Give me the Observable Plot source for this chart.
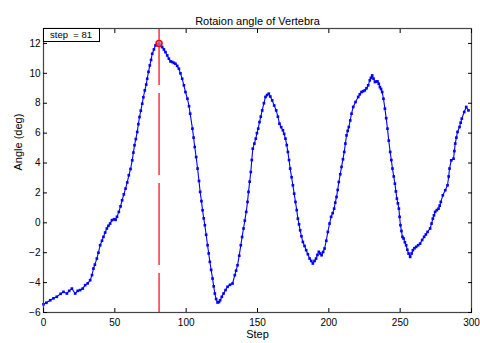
<!DOCTYPE html>
<html>
<head>
<meta charset="utf-8">
<script src="https://cdn.jsdelivr.net/npm/d3@7"></script>
<script src="https://cdn.jsdelivr.net/npm/@observablehq/plot@0.6"></script>
<style>
  html, body { margin: 0; padding: 0; background: #fff; }
  #wrap { position: relative; width: 480px; height: 343px; }
  #legend {
    position: absolute; left: 43px; top: 28px; width: 57px; height: 14px;
    border: 1px solid #000; background: #fff; box-sizing: border-box;
    font: 9.5px 'Liberation Sans', Arial, sans-serif; line-height: 12px;
    padding-left: 6px; white-space: pre; color: #000;
  }
</style>
</head>
<body>
<div id="wrap"></div>
<script>
const titleText = "Rotaion angle of Vertebra";
const xLabel = "Step";
const yLabel = "Angle (deg)";
const legendText = "step  = 81";
const markStep = 81;
const markAngle = 12.0;
const xTicks = [0, 50, 100, 150, 200, 250, 300];
const yTicks = [-6, -4, -2, 0, 2, 4, 6, 8, 10, 12];

const steps = [
  0, 2, 4.7, 7, 9.3, 12, 14, 16.4, 18, 19.9, 22.2, 24, 25.7, 27.5, 29.2, 31, 32.7, 34, 35, 36,
  37.4, 38.5, 39.7, 41, 42, 43.2, 44.4, 45.5, 46.7, 48, 49.5, 50.5, 51.5, 52.8, 54, 55.1, 56.3, 57.5, 58.7, 59.8,
  61, 62.2, 63, 63.8, 64.7, 65.7, 66.5, 67.3, 68.2, 69.2, 70, 71, 72, 72.7, 73.6, 74.5, 75.4, 76.2, 77.4, 78.5,
  79.7, 81, 82, 83.2, 84.4, 85.5, 86.7, 87.9, 89, 90.2, 91.4, 92.5, 93.7, 94.9, 96, 97.2, 98.4, 99.5, 100.9, 102,
  102.8, 104.4, 105.2, 106, 107, 108, 109, 109.8, 110.7, 111.5, 112.3, 113.1, 114, 115, 115.8, 116.6, 117.5, 118.5, 119.3, 120.1,
  121, 122, 123, 123.8, 125, 126.2, 127.6, 129, 130.7, 132.5, 134.1, 135, 136, 137.2, 138.3, 139.2, 140.2, 141.1, 142.1, 143,
  143.7, 144.5, 145.3, 146, 146.7, 147.8, 148.8, 149.6, 150.5, 151.4, 152.3, 153.3, 154.5, 155.6, 156.7, 157.9, 159, 160.3, 161.7, 163.1,
  164.3, 165.4, 166.6, 167.8, 168.7, 169.6, 170.5, 171.3, 172.1, 172.9, 173.9, 174.8, 175.7, 176.6, 177.5, 178.3, 179.1, 179.9, 180.8, 181.8,
  183, 184.1, 185.3, 186.5, 187.7, 188.8, 190, 191.1, 192, 193, 194, 194.9, 196, 197, 198.2, 199.3, 200.5, 201.6, 202.7, 203.7,
  204.5, 205.4, 206.2, 207, 208, 208.9, 209.9, 210.8, 211.6, 212.4, 213.2, 214, 215, 215.9, 217.1, 218.7, 220.6, 221.7, 222.9, 224,
  225.2, 226.4, 227.6, 228.7, 229.5, 230.4, 231.3, 232.3, 233.2, 234.1, 235, 235.8, 236.6, 237.4, 238.3, 239.3, 240.2, 241.1, 242, 243,
  243.8, 244.6, 245.5, 246.3, 247, 247.7, 248.4, 249.1, 249.6, 250.2, 250.9, 251.6, 252.4, 253.3, 254.2, 255, 255.9, 257, 258, 258.9,
  260, 261.2, 262.6, 264, 265.4, 266.8, 268, 269.2, 271, 272, 272.9, 273.7, 274.5, 275.7, 276.9, 277.7, 278.5, 279.9, 281.6, 283.2,
  284, 284.6, 285.8, 287.4, 288, 288.6, 289.4, 290.2, 291.6, 292.4, 293.2, 294.9, 296.3, 297.9
];
const angles = [
  -5.45, -5.35, -5.18, -5.05, -4.95, -4.75, -4.62, -4.73, -4.55, -4.4, -4.73, -4.55, -4.5, -4.4, -4.17, -4.05, -3.84, -3.5, -3.06, -2.8,
  -2.39, -2.0, -1.5, -1.2, -0.94, -0.65, -0.38, -0.2, -0.05, 0.18, 0.24, 0.2, 0.4, 0.73, 1.1, 1.51, 1.9, 2.29, 2.7, 3.18,
  3.6, 4.18, 4.7, 5.19, 5.6, 6.08, 6.6, 7.08, 7.5, 7.97, 8.4, 8.86, 9.25, 9.64, 10.1, 10.53, 10.9, 11.31, 11.6, 11.87,
  11.95, 12.0, 11.9, 11.76, 11.6, 11.42, 11.2, 10.98, 10.8, 10.76, 10.7, 10.64, 10.5, 10.31, 10.0, 9.64, 9.2, 8.75, 8.3, 7.8,
  7.3, 6.3, 5.7, 5.07, 4.4, 3.63, 2.8, 2.07, 1.45, 0.84, 0.3, -0.16, -0.8, -1.5, -2.05, -2.61, -3.15, -3.73, -4.25, -4.73,
  -5.1, -5.33, -5.3, -5.18, -4.95, -4.73, -4.5, -4.28, -4.15, -4.06, -3.5, -3.2, -2.84, -2.2, -1.5, -0.95, -0.38, 0.15, 0.73, 1.4,
  2.07, 2.75, 3.4, 4.2, 4.96, 5.3, 5.63, 6.0, 6.3, 6.74, 7.1, 7.52, 8.0, 8.42, 8.55, 8.64, 8.45, 8.19, 7.85, 7.52,
  7.1, 6.63, 6.4, 6.19, 5.95, 5.63, 5.2, 4.74, 4.2, 3.63, 3.05, 2.51, 1.95, 1.4, 0.85, 0.28, -0.1, -0.5, -0.9, -1.28,
  -1.55, -1.83, -2.1, -2.39, -2.55, -2.72, -2.55, -2.39, -2.15, -1.94, -2.05, -2.17, -1.95, -1.72, -1.2, -0.61, -0.05, 0.4, 0.65, 0.95,
  1.35, 1.73, 2.2, 2.73, 3.25, 3.74, 4.25, 4.74, 5.3, 5.85, 6.15, 6.41, 6.85, 7.3, 7.75, 8.08, 8.42, 8.6, 8.75, 8.8,
  8.86, 9.0, 9.2, 9.53, 9.7, 9.86, 9.65, 9.42, 9.45, 9.46, 9.3, 9.08, 8.95, 8.75, 8.3, 7.64, 7.0, 6.3, 5.5, 4.74,
  4.2, 3.63, 3.1, 2.62, 2.1, 1.62, 1.3, 0.95, 0.4, -0.16, -0.55, -0.94, -1.05, -1.3, -1.5, -1.8, -2.06, -2.28, -2.05, -1.83,
  -1.7, -1.61, -1.5, -1.39, -1.15, -0.94, -0.78, -0.61, -0.38, -0.05, 0.28, 0.5, 0.73, 0.85, 0.95, 1.15, 1.4, 1.84, 2.18, 2.51,
  3.1, 3.63, 4.18, 4.29, 4.8, 5.3, 5.7, 6.08, 6.41, 6.7, 6.97, 7.41, 7.75, 7.52
];

const data = steps.map((s, i) => ({step: s, angle: angles[i]}));

const chart = Plot.plot({
  width: 480,
  height: 343,
  marginLeft: 43,
  marginRight: 9,
  marginTop: 28,
  marginBottom: 31,
  x: {domain: [0, 300], ticks: xTicks},
  y: {domain: [-6, 13], ticks: yTicks},
  style: {fontFamily: "'Liberation Sans', Arial, sans-serif", fontSize: "10px", color: "#000", background: "#fff"},
  marks: [
    Plot.ruleX([markStep], {stroke: "#ff0000", strokeWidth: 1.2, strokeDasharray: "82,8", strokeDashoffset: 25}),
    Plot.line(data, {x: "step", y: "angle", stroke: "#0000ff", strokeWidth: 1.1}),
    Plot.dot(data, {x: "step", y: "angle", symbol: "square", r: 1.5, fill: "#0000ff"}),
    Plot.dot([{step: markStep, angle: markAngle}], {x: "step", y: "angle", r: 3, stroke: "#ff0000", fill: "#ff9999", fillOpacity: 0.6}),
    Plot.frame({stroke: "#444", strokeWidth: 1.2}),
    Plot.axisX(xTicks, {anchor: "bottom", tickSize: 0, tickPadding: 6, label: null}),
    Plot.axisX(xTicks, {anchor: "bottom", tickSize: -4, fill: "none", label: null, stroke: "#000"}),
    Plot.axisX(xTicks, {anchor: "top", tickSize: -4, fill: "none", label: null, stroke: "#000"}),
    Plot.axisY(yTicks, {anchor: "left", tickSize: 0, tickPadding: 3, label: null}),
    Plot.axisY(yTicks, {anchor: "left", tickSize: -4, fill: "none", label: null, stroke: "#000"}),
    Plot.axisY(yTicks, {anchor: "right", tickSize: -4, fill: "none", label: null, stroke: "#000"}),
    Plot.text([xLabel], {text: d => d, frameAnchor: "bottom", dy: 25, fontSize: 11}),
    Plot.text([yLabel], {text: d => d, frameAnchor: "left", dx: -25, rotate: -90, fontSize: 11}),
    Plot.text([titleText], {text: d => d, frameAnchor: "top", dy: -11, fontSize: 11})
  ]
});

const wrap = document.getElementById("wrap");
wrap.appendChild(chart);
const legend = document.createElement("div");
legend.id = "legend";
legend.textContent = legendText;
wrap.appendChild(legend);
</script>
</body>
</html>
